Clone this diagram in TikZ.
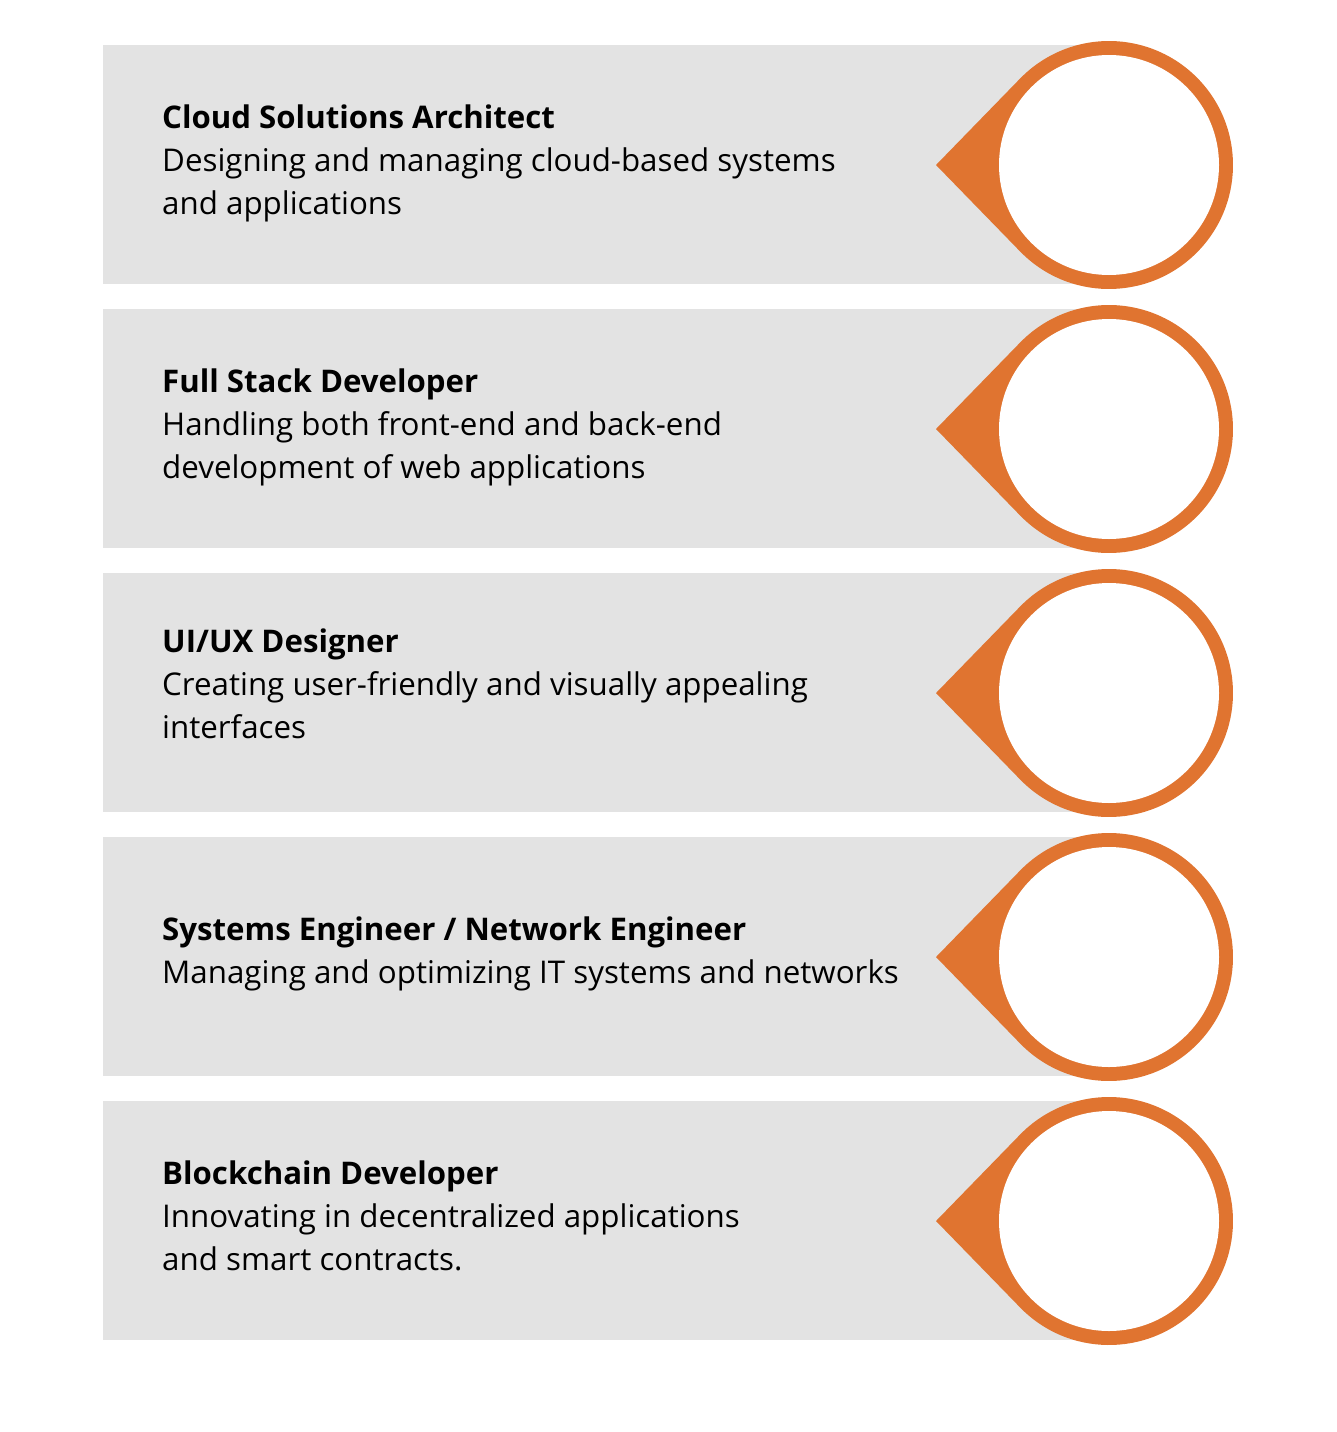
\documentclass[tikz,border=0pt]{standalone}
\usepackage{fontspec}
\setmainfont{Open Sans}
\usetikzlibrary{calc}
\definecolor{panel}{HTML}{E3E3E3}
\definecolor{accent}{HTML}{E07430}
\begin{document}
\begin{tikzpicture}[x=1pt,y=-1pt,
  panelbox/.style={fill=panel, inner sep=0pt, minimum width=997pt, minimum height=239pt, anchor=north west},
  hole/.style={circle, fill=white, inner sep=0pt, minimum size=220pt},
  title/.style={anchor=base west, inner sep=0pt, font=\fontsize{31.2}{36}\selectfont\bfseries},
  desc/.style={anchor=base west, inner sep=0pt, font=\fontsize{31.3}{36}\selectfont}]
  \useasboundingbox (0,0) rectangle (1336,1432);
  % one row: panel, orange pin with white disc
  \foreach \i/\top in {1/45,2/309,3/573,4/837,5/1101}{
    \node[panelbox] (panel\i) at (103,\top) {};
    \coordinate (pc\i) at (1109,\top+120);
    \coordinate (tip\i) at (936,\top+120);
    \fill[accent] (tip\i) -- ($(pc\i)+(135.8:124)$) arc[start angle=135.8, end angle=-135.8, radius=124] -- cycle;
    \node[hole] (disc\i) at (pc\i) {};
  }
  % texts
  \node[title] (t1) at (162,128) {Cloud Solutions Architect};
  \node[desc] (d1a) at (162,171) {Designing and managing cloud-based systems};
  \node[desc] (d1b) at (162,214) {and applications};
  \node[title] (t2) at (162,392) {Full Stack Developer};
  \node[desc] (d2a) at (162,435) {Handling both front-end and back-end};
  \node[desc] (d2b) at (162,478) {development of web applications};
  \node[title] (t3) at (162,652) {UI/UX Designer};
  \node[desc] (d3a) at (162,695) {Creating user-friendly and visually appealing};
  \node[desc] (d3b) at (162,738) {interfaces};
  \node[title] (t4) at (162,940) {Systems Engineer / Network Engineer};
  \node[desc] (d4a) at (162,983) {Managing and optimizing IT systems and networks};
  \node[title] (t5) at (162,1184) {Blockchain Developer};
  \node[desc] (d5a) at (162,1227) {Innovating in decentralized applications};
  \node[desc] (d5b) at (162,1270) {and smart contracts.};
\end{tikzpicture}
\end{document}
